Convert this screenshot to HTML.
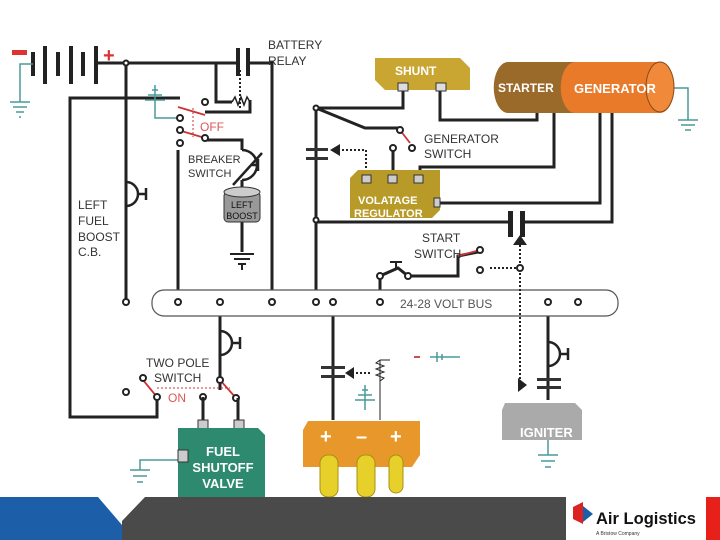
<!DOCTYPE html>
<html><head><style>
body{margin:0;background:#fff;}
svg{display:block;font-family:"Liberation Sans",sans-serif;}
</style></head><body>
<svg width="720" height="540" viewBox="0 0 720 540">
<rect width="720" height="540" fill="#fff"/>
<g stroke="#222" stroke-width="3" fill="none">
<path d="M97 63 H238 M248 63 H272 V300"/>
<path d="M126 63 V300"/>
<path d="M216 63 V102 H232"/>
<path d="M250 100 V112 H205"/>
<path d="M70 298 V98 H180"/>
<path d="M205 140 H242 V150"/>
<path d="M242 180 V190"/>
<path d="M242 222 V252"/>
<path d="M178 150 V300"/>
<path d="M70 298 V417 H157 V397"/>
<path d="M316 108 V300"/>
<path d="M316 108 H403 V88"/>
<path d="M316 108 L365 128 H400"/>
<path d="M440 88 V120 H537 V113"/>
<path d="M554 113 V167 H420 V175"/>
<path d="M600 113 V203 H440"/>
<path d="M612 113 V222 H525 M510 222 H316"/>
<path d="M393 148 V175"/>
<path d="M380 300 V276 L398 268 L408 276 H458 V256 L478 252"/>
<path d="M548 300 V400"/>
<path d="M220 300 V390"/>
<path d="M333 300 V420"/>
</g>
<g stroke="#222" stroke-width="1" fill="none">
<path d="M380 360 V420 M380 360 H390"/>
</g>
<rect x="152" y="290" width="466" height="26" rx="12" fill="#fff" stroke="#555" stroke-width="1.2"/>
<text x="400" y="308" font-size="12" fill="#555">24-28 VOLT BUS</text>
<rect x="12" y="50" width="15" height="5" fill="#d33"/>
<text x="103" y="62" font-size="20" fill="#d33" font-weight="bold">+</text>
<g fill="#222">
<rect x="31" y="52" width="4" height="24"/><rect x="43" y="46" width="4" height="38"/>
<rect x="56" y="52" width="4" height="24"/><rect x="69" y="46" width="4" height="38"/>
<rect x="81" y="52" width="4" height="24"/><rect x="94" y="46" width="4" height="38"/>
<rect x="236" y="48" width="4" height="28"/><rect x="246" y="48" width="4" height="28"/>
<rect x="508" y="211" width="5" height="26"/><rect x="520" y="211" width="5" height="26"/>
</g>
<g stroke="#4a9a9a" stroke-width="1.5" fill="none">
<path d="M33 64 H20 V102 M10 102 H30 M13 107 H27 M16 112 H24 M19 117 H21"/>
<path d="M155 85 V100 M145 100 H165 M148 95 H162 M152 90 H158 M155 100 V118 H180"/>
<path d="M673 88 H688 V120 M678 120 H698 M681 125 H695 M685 130 H691"/>
<path d="M190 460 H140 V470 M130 470 H150 M133 476 H147 M137 482 H143"/>
<path d="M365 385 V410 M355 400 H375 M358 395 H372 M362 390 H368"/>
<path d="M548 440 V455 M538 455 H558 M541 461 H555 M545 467 H551"/>
<path d="M430 357 H460 M437 352 V362 M442 354 V360"/>
</g>
<path d="M230 254 H254 M234 259 H250 M238 264 H246 M242 264 V270" stroke="#222" stroke-width="2"/>
<g stroke="#c33" stroke-width="1.8">
<path d="M178 107 L205 115 M178 130 L205 138 M143 380 L157 397 M220 380 L236 398 M400 130 L410 143 M458 256 L480 250 M414 357 H420"/>
</g>
<g stroke="#c33" stroke-width="1" stroke-dasharray="2,2"><path d="M193 108 V137 M157 388 H230"/></g>
<text x="200" y="131" font-size="12" fill="#d55">OFF</text>
<text x="168" y="402" font-size="12" fill="#d55">ON</text>
<g stroke="#222" stroke-width="2" stroke-dasharray="2,2" fill="none">
<path d="M520 245 V385"/><path d="M490 268 H520"/>
<path d="M366 172 V150 H338"/><path d="M352 373 H370"/><path d="M240 70 V108"/>
</g>
<path d="M513 245 L520 235 L527 245Z M527 385 L518 392 L518 378Z M330 150 L340 144 L340 156Z M345 373 L354 367 L354 379Z" fill="#222"/>
<g fill="#333"><rect x="306" y="148" width="22" height="3"/><rect x="306" y="157" width="22" height="3"/>
<rect x="321" y="366" width="24" height="3"/><rect x="321" y="375" width="24" height="3"/>
<rect x="537" y="378" width="24" height="3"/><rect x="537" y="386" width="24" height="3"/></g>
<path d="M232 102 l3 -5 l3 8 l3 -8 l3 8 l3 -8 l3 5" stroke="#222" fill="none" stroke-width="1.5"/>
<path d="M380 360 l-4 3 l8 3 l-8 3 l8 3 l-8 3 l8 3 l-4 3" stroke="#222" fill="none"/>
<g stroke="#222" stroke-width="2.5" fill="none">
<path d="M126 206 a12 12 0 0 0 0 -24 M138 194 H146 M146 188 V200"/>
<path d="M220 355 a12 12 0 0 0 0 -24 M232 343 H240 M240 337 V349"/>
<path d="M548 366 a12 12 0 0 0 0 -24 M560 354 H568 M568 348 V360"/>
<path d="M242 150 a10 10 0 0 1 0 30 M252 165 H258 M258 159 V171"/>
<path d="M233 185 L262 153"/>
</g>
<g fill="#fff" stroke="#222" stroke-width="2">
<circle cx="126" cy="63" r="2.5"/><circle cx="205" cy="102" r="3"/><circle cx="180" cy="118" r="3"/>
<circle cx="180" cy="130" r="3"/><circle cx="180" cy="143" r="3"/><circle cx="205" cy="138" r="3"/>
<circle cx="316" cy="108" r="2.5"/><circle cx="316" cy="220" r="2.5"/><circle cx="400" cy="130" r="3"/><circle cx="412" cy="148" r="3"/>
<circle cx="393" cy="148" r="3"/><circle cx="480" cy="250" r="3"/><circle cx="480" cy="270" r="3"/><circle cx="520" cy="268" r="3"/>
<circle cx="380" cy="276" r="3"/><circle cx="408" cy="276" r="3"/>
<circle cx="178" cy="302" r="3"/><circle cx="126" cy="302" r="3"/><circle cx="220" cy="302" r="3"/><circle cx="272" cy="302" r="3"/>
<circle cx="316" cy="302" r="3"/><circle cx="333" cy="302" r="3"/><circle cx="380" cy="302" r="3"/><circle cx="548" cy="302" r="3"/><circle cx="578" cy="302" r="3"/>
<circle cx="143" cy="378" r="3"/><circle cx="126" cy="392" r="3"/><circle cx="157" cy="397" r="3"/><circle cx="220" cy="380" r="3"/><circle cx="203" cy="397" r="3"/><circle cx="236" cy="398" r="3"/>
</g>
<path d="M203 397 V420 M238 398 V420" stroke="#222" stroke-width="3"/>
<path d="M396 268 V262 M390 262 H402" stroke="#222" stroke-width="2"/>
<rect x="224" y="192" width="36" height="30" rx="4" fill="#999" stroke="#333"/>
<ellipse cx="242" cy="192" rx="18" ry="5" fill="#ccc" stroke="#333"/>
<text x="242" y="208" font-size="9" text-anchor="middle" fill="#111">LEFT</text>
<text x="242" y="219" font-size="9" text-anchor="middle" fill="#111">BOOST</text>
<g font-size="12" fill="#333">
<text x="268" y="49">BATTERY</text><text x="268" y="65">RELAY</text>
<text x="188" y="163" font-size="11">BREAKER</text><text x="188" y="177" font-size="11">SWITCH</text>
<text x="78" y="209">LEFT</text><text x="78" y="225">FUEL</text><text x="78" y="241">BOOST</text><text x="78" y="256">C.B.</text>
<text x="424" y="143">GENERATOR</text><text x="424" y="158">SWITCH</text>
<text x="422" y="242">START</text><text x="414" y="258">SWITCH</text>
<text x="146" y="367">TWO POLE</text><text x="154" y="382">SWITCH</text>
</g>
<path d="M375 58 H460 L470 68 V90 H385 L375 80Z" fill="#c9a632"/>
<text x="395" y="75" font-size="12" font-weight="bold" fill="#fff">SHUNT</text>
<rect x="398" y="83" width="10" height="8" fill="#ddd" stroke="#333"/><rect x="436" y="83" width="10" height="8" fill="#ddd" stroke="#333"/>
<path d="M508 62 H575 V113 H508 A14 25 0 0 1 508 62Z" fill="#9a6a2a"/>
<path d="M575 62 H660 A14 25 0 0 1 660 113 H575 A14 25 0 0 1 575 62Z" fill="#e87a2a"/>
<ellipse cx="660" cy="87" rx="14" ry="25" fill="#f08a3a" stroke="#8a4a1a"/>
<text x="498" y="92" font-size="12" font-weight="bold" fill="#fff">STARTER</text>
<text x="574" y="93" font-size="13" font-weight="bold" fill="#fff">GENERATOR</text>
<path d="M358 170 H440 V210 L432 218 H350 V178Z" fill="#b89a28"/>
<g fill="#ccc" stroke="#333"><rect x="362" y="175" width="9" height="8"/><rect x="388" y="175" width="9" height="8"/><rect x="414" y="175" width="9" height="8"/><rect x="434" y="198" width="6" height="9"/></g>
<text x="358" y="204" font-size="11" font-weight="bold" fill="#fff">VOLATAGE</text>
<text x="354" y="217" font-size="11" font-weight="bold" fill="#fff">REGULATOR</text>
<rect x="198" y="420" width="10" height="9" fill="#ccc" stroke="#333"/><rect x="234" y="420" width="10" height="9" fill="#ccc" stroke="#333"/>
<path d="M178 428 H258 L265 435 V497 H178Z" fill="#2e8a6e"/>
<rect x="178" y="450" width="10" height="12" fill="#ccc" stroke="#333"/>
<g font-size="13" font-weight="bold" fill="#fff" text-anchor="middle"><text x="223" y="456">FUEL</text><text x="223" y="472">SHUTOFF</text><text x="223" y="488">VALVE</text></g>
<path d="M308 421 H420 V455 L412 467 H303 V430Z" fill="#e8982a"/>
<g font-size="20" font-weight="bold" fill="#fff"><text x="320" y="443">+</text><text x="356" y="443">–</text><text x="390" y="443">+</text></g>
<g fill="#e8d02a" stroke="#a89010"><rect x="320" y="455" width="18" height="42" rx="8"/><rect x="357" y="455" width="18" height="42" rx="8"/><rect x="389" y="455" width="14" height="38" rx="7"/></g>
<path d="M505 403 H575 L582 410 V440 H502 V410Z" fill="#aaa"/>
<text x="520" y="437" font-size="13" font-weight="bold" fill="#fff">IGNITER</text>
<path d="M0 497 H98 L122 525 V540 H0Z" fill="#1c5fa8"/>
<path d="M145 497 H566 V540 H122 V521Z" fill="#4a4a4a"/>
<rect x="706" y="497" width="14" height="43" fill="#e8201a"/>
<g transform="translate(570,502)"><path d="M3 5 L13 0 V22 L3 17Z" fill="#d22"/><path d="M13 4 L23 12 L13 20Z" fill="#1c5fa8"/></g>
<text x="596" y="524" font-size="17" fill="#111" font-weight="bold" textLength="100" lengthAdjust="spacingAndGlyphs">Air Logistics</text>
<text x="596" y="535" font-size="5" fill="#333">A Bristow Company</text>
</svg>
</body></html>
